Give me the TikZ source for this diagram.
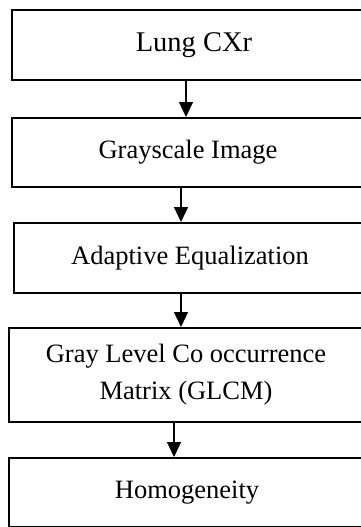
\documentclass[tikz,border=0pt]{standalone}
\usepackage{fontspec}
\setmainfont{Liberation Serif}
\usetikzlibrary{arrows.meta}
\begin{document}
\begin{tikzpicture}[x=1pt,y=-1pt,
  stepbox/.style={draw=black, line width=2pt, fill=white, anchor=north west,
    inner sep=0pt, align=center, font=\fontsize{26.5}{37}\selectfont},
  arr/.style={line width=1.2pt, -{Triangle[length=15pt,width=14pt]}}]
\useasboundingbox (0,0) rectangle (361,527);
\clip (0,0) rectangle (361,527);
\fill[white] (0,0) rectangle (361,527);
\node[stepbox, minimum width=364pt, minimum height=70pt, font=\fontsize{28.5}{37}\selectfont] (b1) at (11,9) {Lung CXr};
\node[stepbox, minimum width=352pt, minimum height=69pt] (b2) at (11,117) {Grayscale Image};
\node[stepbox, minimum width=352pt, minimum height=70pt] (b3) at (13,222) {Adaptive Equalization};
\node[stepbox, minimum width=354pt, minimum height=94pt] (b4) at (8,327) {Gray Level Co occurrence\\Matrix (GLCM)};
\node[stepbox, minimum width=356pt, minimum height=69pt] (b5) at (8,457) {Homogeneity};
\draw[arr] ([xshift=-8pt]b1.south) -- ([xshift=-8pt]b1.south |- b2.north);
\draw[arr] ([xshift=-7pt]b2.south) -- ([xshift=-7pt]b2.south |- b3.north);
\draw[arr] ([xshift=-9pt]b3.south) -- ([xshift=-9pt]b3.south |- b4.north);
\draw[arr] ([xshift=-12pt]b4.south) -- ([xshift=-12pt]b4.south |- b5.north);
\end{tikzpicture}
\end{document}
